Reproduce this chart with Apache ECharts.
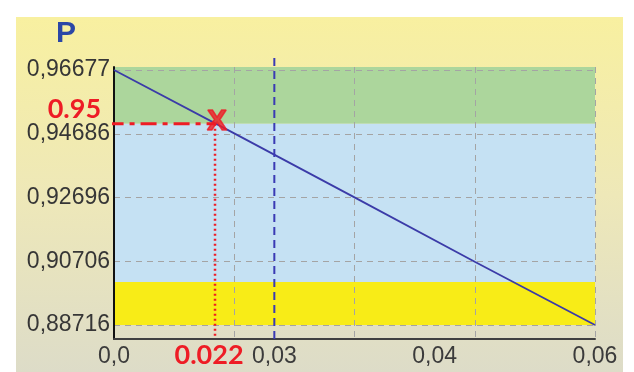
<!DOCTYPE html>
<html>
<head>
<meta charset="utf-8">
<script src="https://cdn.jsdelivr.net/npm/echarts@6/dist/echarts.min.js"></script>
<style>
html,body{margin:0;padding:0;background:#fff;}
#chart{width:634px;height:372px;}
</style>
</head>
<body>
<div id="chart"></div>
<script>
// ---- data ----
const xValues = [0, 0.015, 0.03, 0.045, 0.06];
const pValues = [0.96677, 0.9470, 0.9270, 0.9069, 0.88716];
const yTickValues = [0.88716, 0.90706, 0.92696, 0.94686, 0.96677];
const xTickPositions = [0, 0.02, 0.04, 0.06];
const xTickLabels = ['0,0', '0,03', '0,04', '0,06'];
const bandLow = [0.95, 0.9006, 0.88716];
const bandHigh = [0.96771, 0.95, 0.9006];
const targetP = 0.95;
const targetX = 0.0126;
const targetXLabel = '0.022';
const targetPLabel = '0.95';
const refLineX = 0.02;
const yMin = 0.88279, yMax = 0.96771, yRefTop = 0.97145;
const dashStartX = -0.0008;

const bandColors = ['#acd69c', '#c5e1f3', '#f8ec17'];

const chart = echarts.init(document.getElementById('chart'));
const font = 'Liberation Sans, Arial, sans-serif';

const lineData = xValues.map((x, i) => [x, pValues[i]]);

chart.setOption({
  animation: false,
  graphic: [{
    type: 'rect', z: -100, silent: true,
    shape: { x: 16, y: 17, width: 607, height: 355 },
    style: {
      fill: new echarts.graphic.LinearGradient(0, 0, 0, 1, [
        { offset: 0, color: '#f8f0a0' },
        { offset: 0.5, color: '#eee8b8' },
        { offset: 1, color: '#dddcc8' }
      ])
    }
  }],
  title: {
    text: 'P', left: 51, top: 14,
    textStyle: { color: '#2b47a6', fontSize: 30, fontWeight: 'bold', fontFamily: font }
  },
  grid: { left: 114, right: 39, top: 67, bottom: 33 },
  xAxis: {
    type: 'value', min: 0, max: 0.06, interval: 0.015, z: 3,
    axisLine: { show: true, lineStyle: { color: '#404040', width: 2 } },
    axisTick: { show: false },
    splitLine: { show: true, lineStyle: { color: '#a4a4a4', type: [6, 5], width: 1 } },
    axisLabel: {
      customValues: xTickPositions,
      formatter: v => { const i = xTickPositions.findIndex(p => Math.abs(p - v) < 1e-9); return i >= 0 ? xTickLabels[i] : ''; },
      color: '#3b3b3b', fontSize: 23, fontFamily: font, margin: 6
    }
  },
  yAxis: {
    type: 'value', min: yMin, max: yMax, z: 3,
    axisLine: { show: true, lineStyle: { color: '#111', width: 2 } },
    axisTick: { show: false, customValues: yTickValues },
    splitLine: { show: true, lineStyle: { color: '#a4a4a4', type: [6, 5], width: 1 } },
    axisLabel: {
      customValues: yTickValues,
      formatter: v => v.toFixed(5).replace('.', ','),
      color: '#363636', fontSize: 23, fontFamily: font, margin: 4
    }
  },
  series: [
    {
      type: 'line', data: lineData, z: 2, symbol: 'none',
      lineStyle: { color: 'rgba(0,0,0,0)', width: 0 },
      markArea: {
        silent: true,
        data: bandLow.map((lo, i) => [
          { xAxis: 0, yAxis: lo, itemStyle: { color: bandColors[i] } },
          { xAxis: 0.06, yAxis: bandHigh[i] }
        ])
      }
    },
    {
      type: 'line', data: lineData, z: 5, symbol: 'none',
      lineStyle: { color: '#3b3ba8', width: 1.8 }
    },
    {
      type: 'line', z: 5, symbol: 'none', clip: false,
      data: [[refLineX, yMin], [refLineX, yRefTop]],
      lineStyle: { color: '#3a3ab4', width: 2, type: [8, 5] }
    },
    {
      type: 'line', z: 6, clip: false, symbol: 'circle', symbolSize: 1,
      itemStyle: { color: 'rgba(0,0,0,0)' },
      data: [
        { value: [dashStartX, targetP], label: { show: true, formatter: targetPLabel, position: 'left', distance: 0, offset: [-6, -14], color: '#ee1c25', fontSize: 27, fontWeight: 'bold', fontFamily: 'Lato, sans-serif' } },
        [targetX, targetP]
      ],
      lineStyle: { color: '#ee1c25', width: 3, type: [16, 6, 5, 6] }
    },
    {
      type: 'line', z: 6, clip: false, symbol: 'circle', symbolSize: 1,
      itemStyle: { color: 'rgba(0,0,0,0)' },
      data: [
        [targetX, targetP],
        { value: [targetX, 0.8833], label: { show: true, formatter: targetXLabel, position: 'bottom', distance: 0, offset: [-6, 4], color: '#ee1c25', fontSize: 27, fontWeight: 'bold', fontFamily: 'Lato, sans-serif' } }
      ],
      lineStyle: { color: '#ee1c25', width: 2.5, type: [2, 3] }
    },
    {
      type: 'scatter', z: 7, symbolSize: 1,
      itemStyle: { color: 'rgba(0,0,0,0)' },
      data: [[targetX, targetP]],
      label: { show: true, formatter: 'X', position: 'inside', offset: [2, -2], color: '#ee1c25', fontSize: 30, fontWeight: 'bold', fontFamily: font, textBorderColor: '#ee1c25', textBorderWidth: 1.5 }
    }
  ]
});
</script>
</body>
</html>
